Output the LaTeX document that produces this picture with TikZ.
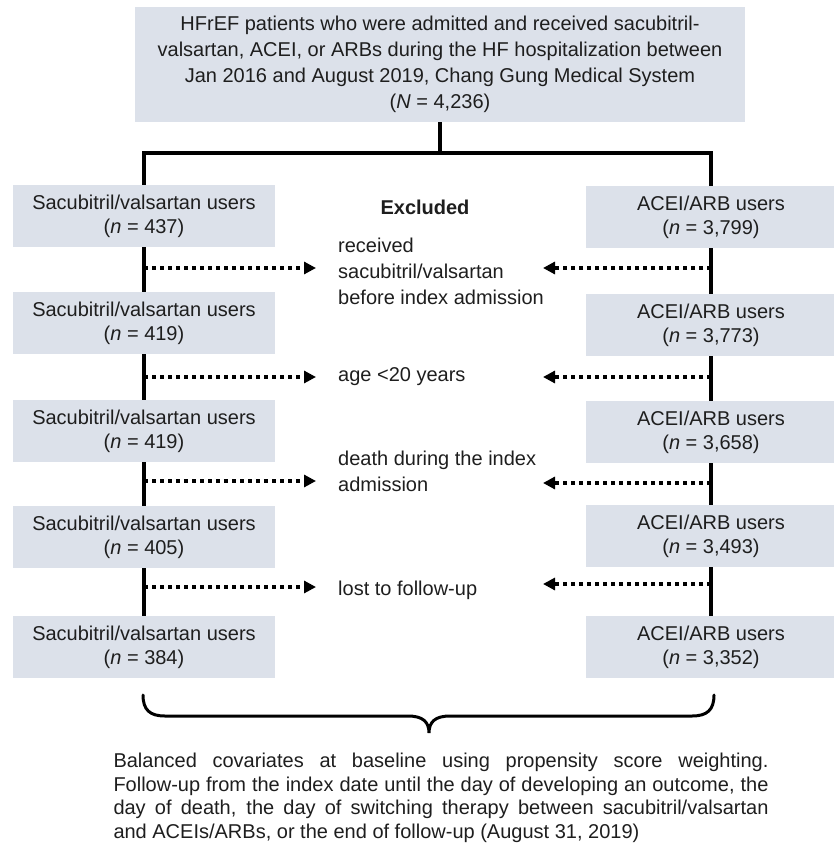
\documentclass[tikz,border=0pt]{standalone}
\usepackage{fontspec}
\setmainfont{Liberation Sans}
\usetikzlibrary{arrows.meta}
\definecolor{boxfill}{HTML}{DCE1EA}
\definecolor{txt}{HTML}{1E1E1E}
\begin{document}
\begin{tikzpicture}[x=1pt,y=-1pt,
  box/.style={fill=boxfill, inner sep=0pt, align=center, text=txt,
    font=\fontsize{20}{24}\selectfont},
  lbox/.style={box, minimum width=262pt, minimum height=62pt},
  rbox/.style={box, minimum width=250pt, minimum height=62pt},
  main/.style={line width=3.2pt, line join=miter},
  dotarrow/.style={line width=3.4pt, dash pattern=on 4pt off 4pt,
    -{Triangle[length=12pt,width=12pt]}},
  excl/.style={anchor=west, align=left, inner sep=0pt, text=txt,
    font=\fontsize{20}{26}\selectfont}]
\useasboundingbox (0,0) rectangle (833,845);

% top box
\node[box, minimum width=610pt, minimum height=115pt,
  font=\fontsize{20}{25.8}\selectfont] (top) at (440,64.5)
  {HFrEF patients who were admitted and received sacubitril-\\
   valsartan, ACEI, or ARBs during the HF hospitalization between\\
   Jan 2016 and August 2019, Chang Gung Medical System\\
   (\textit{N} = 4,236)};

% left column
\node[lbox] (l1) at (144,216) {Sacubitril/valsartan users\\(\textit{n} = 437)};
\node[lbox] (l2) at (144,323) {Sacubitril/valsartan users\\(\textit{n} = 419)};
\node[lbox] (l3) at (144,431) {Sacubitril/valsartan users\\(\textit{n} = 419)};
\node[lbox] (l4) at (144,537) {Sacubitril/valsartan users\\(\textit{n} = 405)};
\node[lbox] (l5) at (144,647) {Sacubitril/valsartan users\\(\textit{n} = 384)};

% right column
\node[rbox] (r1) at (711,217) {ACEI/ARB users\\(\textit{n} = 3,799)};
\node[rbox] (r2) at (711,325) {ACEI/ARB users\\(\textit{n} = 3,773)};
\node[rbox] (r3) at (711,432) {ACEI/ARB users\\(\textit{n} = 3,658)};
\node[rbox] (r4) at (711,536) {ACEI/ARB users\\(\textit{n} = 3,493)};
\node[rbox] (r5) at (711,647) {ACEI/ARB users\\(\textit{n} = 3,352)};

% exclusion texts
\node[inner sep=0pt, text=txt, font=\fontsize{20}{24}\selectfont\bfseries] (exh) at (425,207) {Excluded};
\node[excl] (e1) at (338,271) {received\\sacubitril/valsartan\\before index admission};
\node[excl] (e2) at (338,377) {age <20 years};
\node[excl] (e3) at (338,471) {death during the index\\admission};
\node[excl] (e4) at (338,590) {lost to follow-up};

% splitting lines
\coordinate (split) at (440,153);
\draw[main] (top.south) -- (split);
\draw[main] (l1.north) |- (split) -| (r1.north);

% vertical flow lines
\draw[main] (l1.south) -- (l2.north);
\draw[main] (l2.south) -- (l3.north);
\draw[main] (l3.south) -- (l4.north);
\draw[main] (l4.south) -- (l5.north);
\draw[main] (r1.south) -- (r2.north);
\draw[main] (r2.south) -- (r3.north);
\draw[main] (r3.south) -- (r4.north);
\draw[main] (r4.south) -- (r5.north);

% exclusion arrows
\coordinate (la1) at (144,268); \coordinate (lt1) at (316,268);
\coordinate (la2) at (144,377); \coordinate (lt2) at (316,377);
\coordinate (la3) at (144,481); \coordinate (lt3) at (316,481);
\coordinate (la4) at (144,587); \coordinate (lt4) at (316,587);
\coordinate (ra1) at (711,268); \coordinate (rt1) at (543,268);
\coordinate (ra2) at (711,377); \coordinate (rt2) at (543,377);
\coordinate (ra3) at (711,483); \coordinate (rt3) at (543,483);
\coordinate (ra4) at (711,584); \coordinate (rt4) at (543,584);
\foreach \i in {1,2,3,4} {
  \draw[dotarrow] (la\i) -- (lt\i);
  \draw[dotarrow] (ra\i) -- (rt\i);
}

% brace
\coordinate (bl) at (143,695);
\coordinate (br) at (714,695);
\coordinate (btip) at (429,733);
\draw[line width=3pt, line cap=round]
  (bl) .. controls (143,710) and (150,716) .. (165,716) -- (408,716)
  .. controls (423,716) and (429,722) .. (btip)
  .. controls (429,722) and (435,716) .. (450,716) -- (692,716)
  .. controls (707,716) and (714,710) .. (br);

% bottom text
\node[inner sep=0pt, text width=655pt, align=justify, text=txt,
  font=\fontsize{20}{23.5}\selectfont] (note) at (441,798)
  {Balanced covariates at baseline using propensity score weighting.\linebreak
   Follow-up from the index date until the day of developing an outcome, the\linebreak
   day of death, the day of switching therapy between sacubitril/valsartan\linebreak
   and ACEIs/ARBs, or the end of follow-up (August 31, 2019)};
\end{tikzpicture}
\end{document}
